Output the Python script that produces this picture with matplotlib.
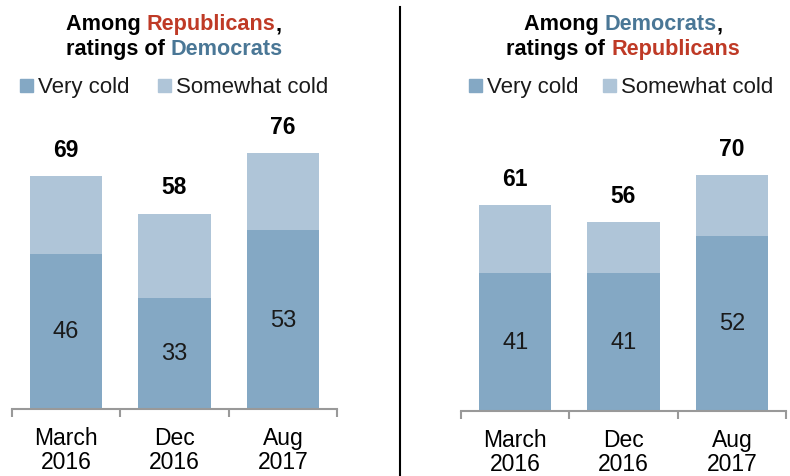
import matplotlib.pyplot as plt
from matplotlib.patches import Rectangle
from matplotlib.lines import Line2D

plt.rcParams['font.family'] = ['Liberation Sans', 'DejaVu Sans']

periods = ['March\n2016', 'Dec\n2016', 'Aug\n2017']
rep_very = [46, 33, 53]
rep_total = [69, 58, 76]
dem_very = [41, 41, 52]
dem_total = [61, 56, 70]

c_very = '#84a8c4'
c_some = '#afc5d8'
c_red = '#bf3a26'
c_blue = '#4a7796'

W, H = 790, 477
fig = plt.figure(figsize=(7.9, 4.77), dpi=100)


def fx(px):
    return px / W


def fy(py):
    return 1 - py / H


def panel(left_px, base_px, very, total):
    ax = fig.add_axes([fx(left_px), fy(base_px), 325 / W, 337 / H])
    x = range(len(periods))
    some = [t - v for t, v in zip(total, very)]
    ax.bar(x, very, width=0.667, color=c_very)
    ax.bar(x, some, bottom=very, width=0.667, color=c_some)
    for i in x:
        ax.text(i, very[i] / 2, str(very[i]), ha='center', va='center', fontsize=17, color='#1a1a1a')
        ax.annotate(str(total[i]), (i, total[i]), xytext=(0, 11), textcoords='offset points',
                    ha='center', va='bottom', fontsize=16.5, fontweight='bold')
    ax.set_xlim(-0.5, 2.5)
    ax.set_ylim(0, 100)
    for s in ['top', 'left', 'right']:
        ax.spines[s].set_visible(False)
    ax.spines['bottom'].set_color('#999999')
    ax.spines['bottom'].set_linewidth(1.5)
    ax.set_yticks([])
    ax.set_xticks([-0.5, 0.5, 1.5, 2.5])
    ax.set_xticklabels([])
    ax.tick_params(axis='x', which='major', length=6, width=1.5, color='#999999')
    ax.set_xticks(list(x), minor=True)
    ax.set_xticklabels(periods, minor=True, fontsize=16.5, linespacing=1.08)
    ax.tick_params(axis='x', which='minor', length=0, pad=12)
    return ax


panel(12, 410, rep_very, rep_total)
panel(461, 412, dem_very, dem_total)

renderer = fig.canvas.get_renderer()


def title_line(cx_px, y_px, parts):
    texts = []
    for txt, col in parts:
        t = fig.text(0, fy(y_px), txt, fontsize=15.6, fontweight='bold', color=col,
                     va='baseline', ha='left')
        texts.append(t)
    # measure the pieces, then lay them out centred on cx_px
    widths = [t.get_window_extent(renderer).width for t in texts]
    x = cx_px - sum(widths) / 2
    for t, w in zip(texts, widths):
        t.set_x(fx(x))
        x += w


title_line(174, 30, [('Among ', 'black'), ('Republicans', c_red), (',', 'black')])
title_line(174, 55, [('ratings of ', 'black'), ('Democrats', c_blue)])
title_line(623, 30, [('Among ', 'black'), ('Democrats', c_blue), (',', 'black')])
title_line(623, 55, [('ratings of ', 'black'), ('Republicans', c_red)])


def legend(x1, x2, y_px):
    for xp, col, lab in [(x1, c_very, 'Very cold'), (x2, c_some, 'Somewhat cold')]:
        fig.patches.append(Rectangle((fx(xp), fy(y_px)), 13 / W, 13 / H,
                                     transform=fig.transFigure, color=col))
        fig.text(fx(xp + 18), fy(y_px), lab, fontsize=16, va='baseline', ha='left', color='#1a1a1a')


legend(20, 158, 93)
legend(469, 603, 93)

fig.add_artist(Line2D([fx(400), fx(400)], [fy(8), 0], transform=fig.transFigure,
                      color='black', linewidth=1.5))

fig.savefig('out.png', dpi=100)
